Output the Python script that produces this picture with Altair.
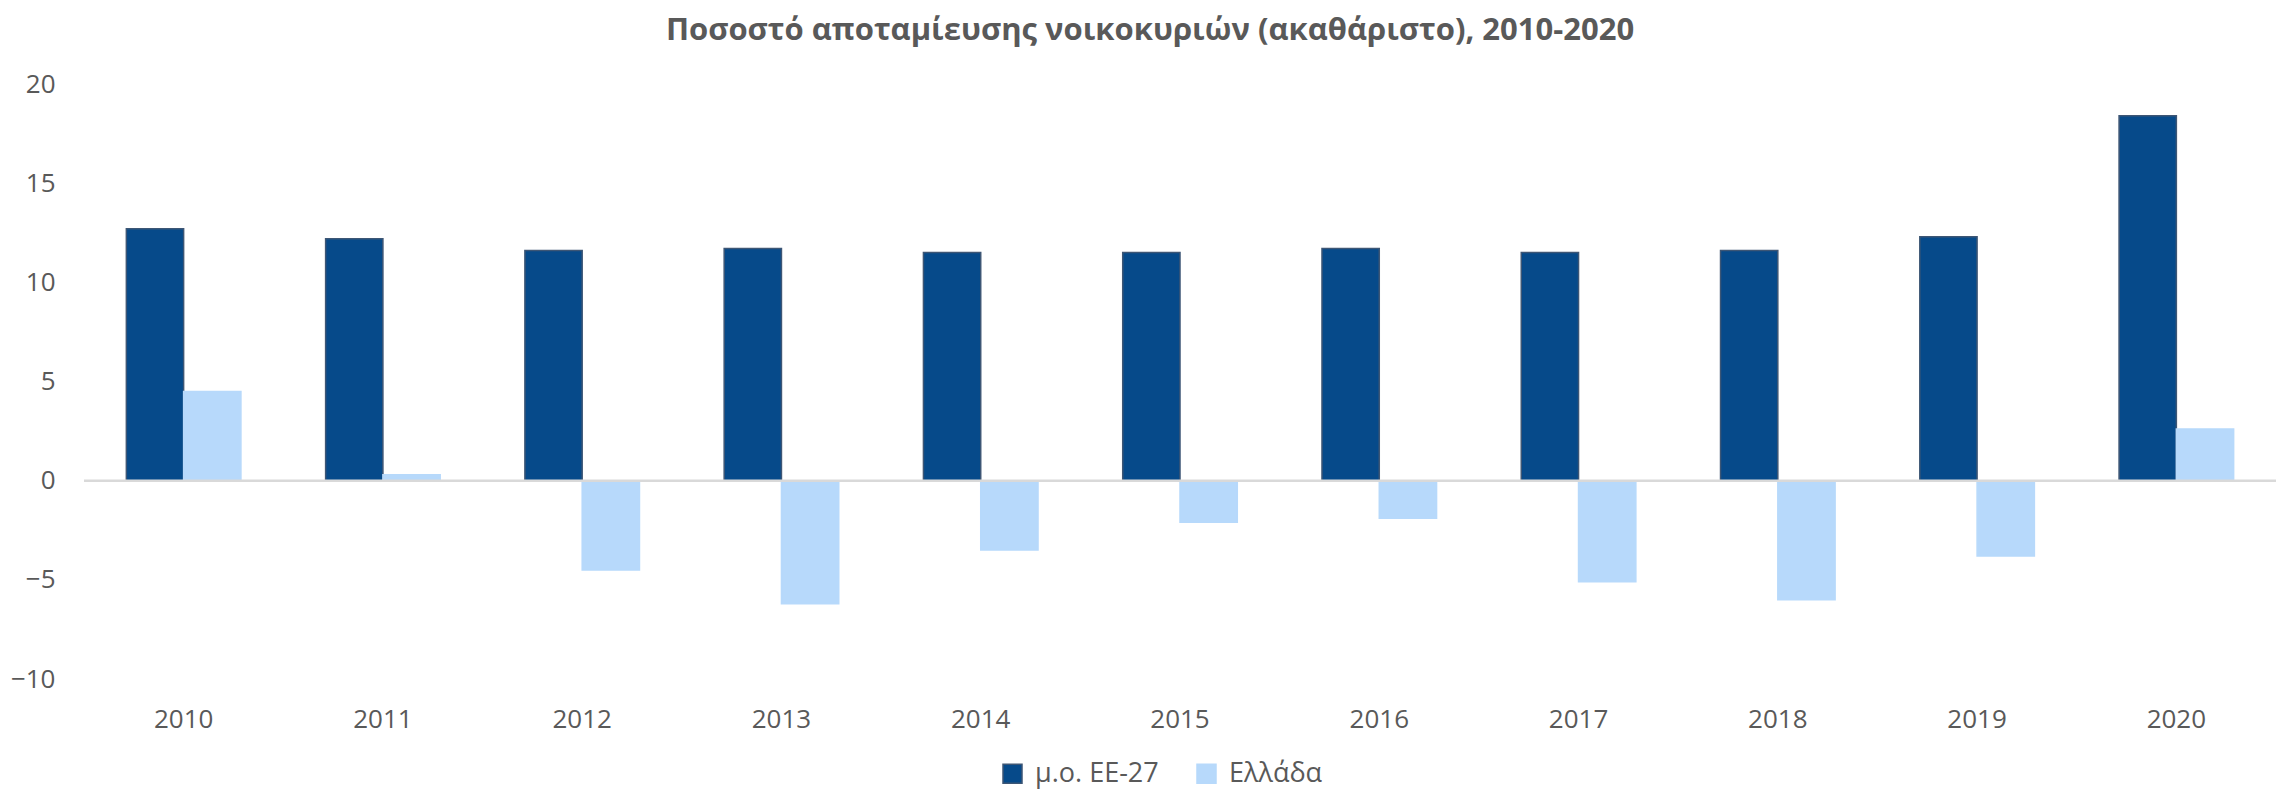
import altair as alt
import pandas as pd

years = ["2010", "2011", "2012", "2013", "2014", "2015", "2016", "2017", "2018", "2019", "2020"]
eu27 = [12.7, 12.2, 11.6, 11.7, 11.5, 11.5, 11.7, 11.5, 11.6, 12.3, 18.4]
greece = [4.5, 0.3, -4.5, -6.2, -3.5, -2.1, -1.9, -5.1, -6.0, -3.8, 2.6]
series = ["μ.ο. ΕΕ-27", "Ελλάδα"]
colors = ["#064a8a", "#b7d9fb"]
strokes = ["#3d5675", "#b7d9fb"]
title_text = "Ποσοστό αποταμίευσης νοικοκυριών (ακαθάριστο), 2010-2020"

rows = []
for y, a, b in zip(years, eu27, greece):
    rows.append({"year": y, "series": series[0], "value": a})
    rows.append({"year": y, "series": series[1], "value": b})
df = pd.DataFrame(rows)

FONT = "Open Sans"
GRAY = "#595959"

x = alt.X("year:N", sort=years, title=None,
          scale=alt.Scale(paddingInner=0.425, paddingOuter=0.2125),
          axis=alt.Axis(labelAngle=0, domain=False, ticks=False, grid=False, labelPadding=27,
                        labelFont=FONT, labelFontSize=26, labelColor=GRAY))
y = alt.Y("value:Q", title=None,
          scale=alt.Scale(domain=[-10, 20], nice=False, zero=False),
          axis=alt.Axis(values=[-10, -5, 0, 5, 10, 15, 20], domain=False, ticks=False,
                        grid=False, labelPadding=29, labelFont=FONT, labelFontSize=26,
                        labelColor=GRAY))

bars = alt.Chart(df).mark_bar(strokeWidth=1.5).encode(
    x=x,
    y=y,
    xOffset=alt.XOffset("series:N", sort=series),
    color=alt.Color("series:N", sort=series, title=None,
                    scale=alt.Scale(domain=series, range=colors),
                    legend=alt.Legend(orient="none", direction="horizontal",
                                      legendX=915, legendY=676, padding=0,
                                      symbolType="square", symbolSize=361,
                                      symbolStrokeWidth=1.5, labelFont=FONT,
                                      labelFontSize=27, labelColor=GRAY,
                                      labelOffset=9, columnPadding=34)),
    stroke=alt.Stroke("series:N", sort=series,
                      scale=alt.Scale(domain=series, range=strokes), legend=None),
)

zero = alt.Chart(pd.DataFrame({"v": [0]})).mark_rule(color="#d9d9d9", strokeWidth=2.5).encode(
    y=alt.Y("v:Q", scale=alt.Scale(domain=[-10, 20]))
)

chart = alt.layer(bars, zero).properties(
    width=2192,
    height=595,
    background="white",
    title=alt.TitleParams(title_text, font=FONT, fontSize=31, fontWeight="bold",
                          color=GRAY, anchor="middle", offset=24, dx=-30),
    autosize=alt.AutoSizeParams(type="none"),
    padding={"left": 76, "top": 76, "right": 0, "bottom": 112},
).configure_view(strokeWidth=0, stroke=None)

chart.save("out.html", embed_options={"renderer": "svg", "actions": False})
